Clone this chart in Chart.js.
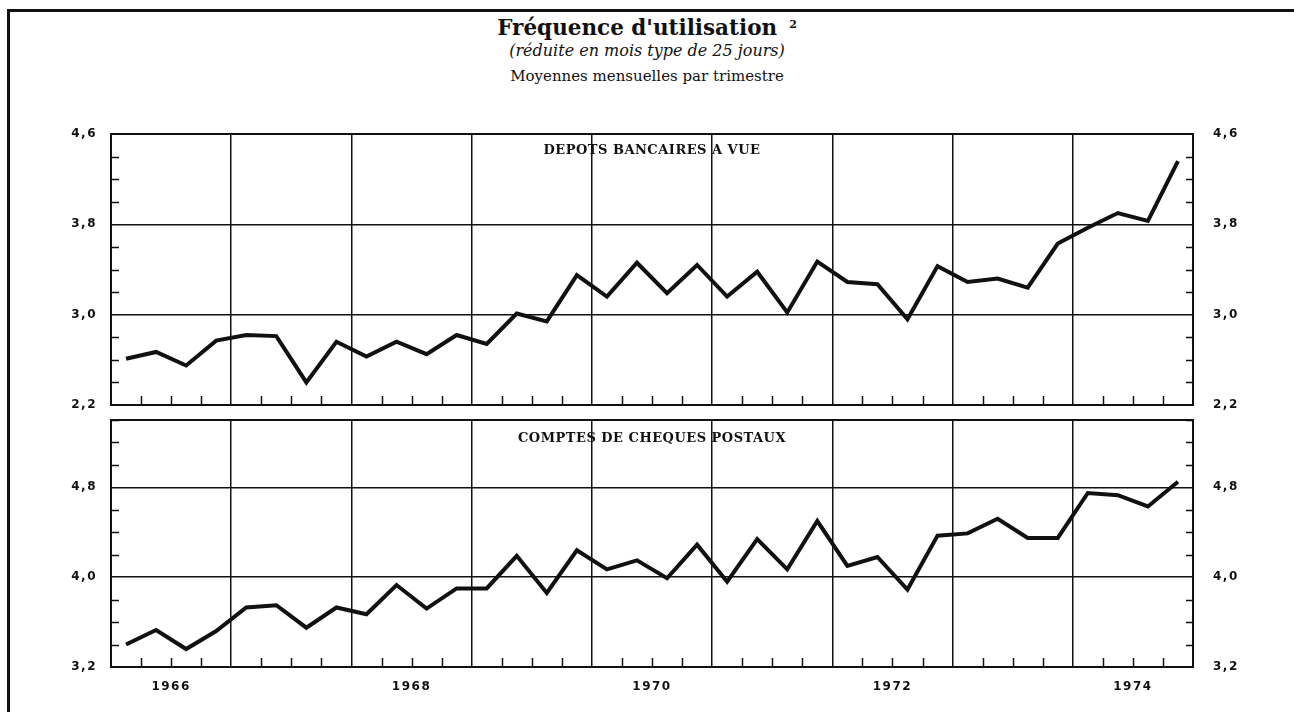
<!DOCTYPE html>
<html>
<head>
<meta charset="utf-8">
<script src="https://cdn.jsdelivr.net/npm/chart.js@4"></script>
<style>
  body { margin: 0; background: #fff; width: 1294px; height: 712px; overflow: hidden; position: relative; }
  #bord { position: absolute; left: 7px; top: 9px; right: -10px; bottom: -10px; border-top: 3px solid #111; border-left: 3px solid #111; }
  .ligne { position: absolute; left: 0; width: 1294px; text-align: center; color: #111; white-space: nowrap; }
  #titre { top: 11px; font: bold 21.5px "DejaVu Serif"; line-height: 28px; }
  #titre span { font-size: 11px; vertical-align: 7px; margin-left: 12px; }
  #sous1 { top: 41px; font: italic 16px "DejaVu Serif"; line-height: 20px; }
  #sous2 { top: 66px; font: 15px "DejaVu Serif"; line-height: 20px; }
  canvas { position: absolute; left: 0; }
  #c1 { top: 120px; }
  #c2 { top: 406px; }
</style>
</head>
<body>
<div id="bord"></div>
<div class="ligne" id="titre">Fréquence d'utilisation<span>2</span></div>
<div class="ligne" id="sous1">(réduite en mois type de 25 jours)</div>
<div class="ligne" id="sous2">Moyennes mensuelles par trimestre</div>
<canvas id="c1" width="1294" height="300"></canvas>
<canvas id="c2" width="1294" height="306"></canvas>
<script>
// années couvertes, 4 trimestres par an
var annees = [1966, 1967, 1968, 1969, 1970, 1971, 1972, 1973, 1974];

// dépôts bancaires à vue, un point par trimestre
var depots = [2.61, 2.67, 2.55, 2.77, 2.82, 2.81, 2.40, 2.76,
              2.63, 2.76, 2.65, 2.82, 2.74, 3.01, 2.94, 3.35,
              3.16, 3.46, 3.19, 3.44, 3.16, 3.38, 3.02, 3.47,
              3.29, 3.27, 2.96, 3.43, 3.29, 3.32, 3.24, 3.63,
              3.77, 3.90, 3.83, 4.36];

// comptes de chèques postaux
var ccp = [3.40, 3.53, 3.36, 3.52, 3.73, 3.75, 3.55, 3.73,
           3.67, 3.93, 3.72, 3.90, 3.90, 4.19, 3.86, 4.24,
           4.07, 4.15, 3.99, 4.29, 3.96, 4.34, 4.07, 4.50,
           4.10, 4.18, 3.89, 4.37, 4.39, 4.52, 4.35, 4.35,
           4.75, 4.73, 4.63, 4.85];

var libelles = ['DEPOTS BANCAIRES A VUE', 'COMPTES DE CHEQUES POSTAUX'];

// position de chaque trimestre (milieu du trimestre)
var trimestres = [];
annees.forEach(function(a) {
  for (var q = 1; q <= 4; q++) trimestres.push(a + (q - 0.5) / 4);
});

var noir = '#111';
var vide = 'rgba(0,0,0,0)';
var debut = annees[0], fin = annees[annees.length - 1] + 1;

function estEntier(v) { return Math.abs(v - Math.round(v)) < 1e-6; }

// cadre, petites graduations et libellé du panneau
var cadre = {
  id: 'cadre',
  beforeDraw: function(chart) { chart.ctx.letterSpacing = '1.5px'; },
  afterDraw: function(chart) {
    var ctx = chart.ctx, a = chart.chartArea;
    var sx = chart.scales.x, sy = chart.scales.y;
    ctx.save();
    ctx.letterSpacing = '0px';
    ctx.strokeStyle = noir;
    ctx.lineWidth = 1.5;
    ctx.beginPath();
    sx.ticks.forEach(function(t) {
      if (estEntier(t.value)) return;
      var px = Math.round(sx.getPixelForValue(t.value)) + 0.5;
      ctx.moveTo(px, a.bottom);
      ctx.lineTo(px, a.bottom - 9);
    });
    sy.ticks.forEach(function(t, k) {
      if (k % 4 === 0) return;
      var py = Math.round(sy.getPixelForValue(t.value)) + 0.5;
      ctx.moveTo(a.left, py);
      ctx.lineTo(a.left + 8, py);
      ctx.moveTo(a.right, py);
      ctx.lineTo(a.right - 7, py);
    });
    ctx.stroke();
    ctx.lineWidth = 2;
    ctx.strokeRect(a.left, a.top, a.right - a.left, a.bottom - a.top);
    ctx.fillStyle = noir;
    ctx.font = 'bold 13px "DejaVu Serif"';
    ctx.textAlign = 'center';
    ctx.textBaseline = 'middle';
    ctx.letterSpacing = '0.5px';
    var o = chart.options.plugins.cadre;
    ctx.fillText(o.texte, (a.left + a.right) / 2, a.top + o.dy);
    ctx.restore();
    ctx.letterSpacing = '0px';
  }
};

function panneau(id, valeurs, min, max, texte, dy, basX) {
  var axeY = function(position, largeur, pad) {
    return {
      type: 'linear', position: position, min: min, max: max,
      afterFit: function(s) { s.width = largeur; s.paddingTop = 0; s.paddingBottom = 0; },
      afterBuildTicks: function(s) {
        var t = [];
        for (var k = 0; min + k * 0.2 <= max + 1e-6; k++) t.push({ value: Math.round((min + k * 0.2) * 10) / 10 });
        s.ticks = t;
      },
      grid: {
        display: position === 'left',
        drawTicks: false,
        lineWidth: 1.5,
        color: function(c) {
          var v = c.tick.value;
          var major = estEntier((v - min) / 0.8);
          return (major && v > min + 1e-6 && v < max - 1e-6) ? noir : vide;
        }
      },
      border: { display: false },
      ticks: {
        padding: pad, color: noir, autoSkip: false,
        font: { family: 'DejaVu Sans', weight: 'bold', size: 12 },
        callback: function(v) {
          return estEntier((v - min) / 0.8) ? v.toFixed(1).replace('.', ',') : '';
        }
      }
    };
  };
  return new Chart(document.getElementById(id), {
    type: 'line',
    data: {
      datasets: [{
        data: valeurs.map(function(v, i) { return { x: trimestres[i], y: v }; }),
        borderColor: noir,
        borderWidth: 4,
        borderJoinStyle: 'miter',
        pointRadius: 0,
        tension: 0
      }]
    },
    options: {
      responsive: false,
      animation: false,
      layout: { padding: { top: 14, bottom: basX ? 0 : 15, left: 0, right: 0 } },
      plugins: { legend: { display: false }, tooltip: { enabled: false }, cadre: { texte: texte, dy: dy } },
      scales: {
        x: {
          type: 'linear', min: debut, max: fin,
          afterFit: function(s) { s.height = basX ? 45 : 0; s.paddingLeft = 0; s.paddingRight = 0; },
          afterBuildTicks: function(s) {
            var t = [];
            for (var k = 0; k <= (fin - debut) * 4; k++) t.push({ value: debut + k / 4 });
            s.ticks = t;
          },
          grid: {
            drawTicks: false,
            lineWidth: 1.5,
            color: function(c) {
              var v = c.tick.value;
              return (estEntier(v) && v > debut && v < fin) ? noir : vide;
            }
          },
          border: { display: false },
          ticks: {
            display: basX, autoSkip: false, maxRotation: 0, padding: 13, color: noir,
            font: { family: 'DejaVu Sans', weight: 'bold', size: 12 },
            callback: function(v) {
              var r = (v - debut - 0.5) / 2;
              return estEntier(r) ? String(Math.floor(v)) : '';
            }
          }
        },
        y: axeY('left', 111, 14),
        y2: axeY('right', 101, 20)
      }
    },
    plugins: [cadre]
  });
}

panneau('c1', depots, 2.2, 4.6, libelles[0], 17, false);
panneau('c2', ccp, 3.2, 5.4, libelles[1], 19, true);
</script>
</body>
</html>
